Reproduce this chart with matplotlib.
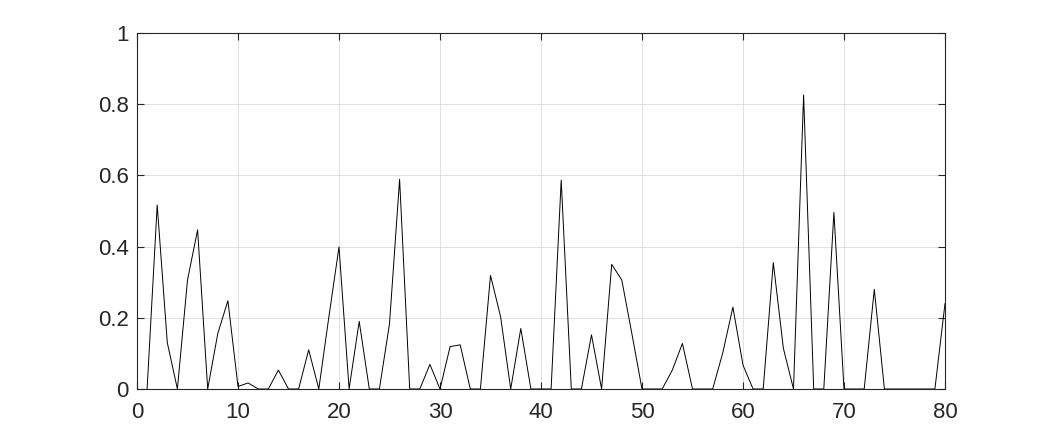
import numpy as np
import matplotlib
matplotlib.use("Agg")
import matplotlib.pyplot as plt
from matplotlib.ticker import FuncFormatter

# Sample index and values
x_vals = list(range(1, 81))
y_vals = [
    0.0, 0.517, 0.13, 0.0, 0.306, 0.447, 0.0, 0.156, 0.248, 0.007,
    0.017, 0.0, 0.0, 0.053, 0.0, 0.0, 0.11, 0.0, 0.203, 0.399,
    0.0, 0.19, 0.0, 0.0, 0.183, 0.589, 0.0, 0.0, 0.069, 0.0,
    0.119, 0.124, 0.0, 0.0, 0.319, 0.203, 0.0, 0.17, 0.0, 0.0,
    0.0, 0.587, 0.0, 0.0, 0.152, 0.0, 0.35, 0.306, 0.155, 0.0,
    0.0, 0.0, 0.053, 0.128, 0.0, 0.0, 0.0, 0.102, 0.23, 0.067,
    0.0, 0.0, 0.355, 0.114, 0.0, 0.826, 0.0, 0.0, 0.496, 0.0,
    0.0, 0.0, 0.28, 0.0, 0.0, 0.0, 0.0, 0.0, 0.0, 0.24,
]
x_ticks = [0, 10, 20, 30, 40, 50, 60, 70, 80]
y_ticks = [0, 0.2, 0.4, 0.6, 0.8, 1]

plt.rcParams['font.family'] = ['Liberation Sans', 'DejaVu Sans']

fig = plt.figure(figsize=(10.45, 4.37), dpi=100)
ax = fig.add_axes([137 / 1045, 1 - 389 / 437, (945 - 137) / 1045, (389 - 33) / 437])

ax.plot(x_vals, y_vals, color='black', linewidth=0.7)

ax.set_xlim(0, 80)
ax.set_ylim(0, 1)
ax.set_xticks(x_ticks)
ax.set_yticks(y_ticks)
ax.yaxis.set_major_formatter(FuncFormatter(lambda v, p: f"{v:g}"))

ax.grid(True, color='#dcdcdc', linewidth=0.6)
ax.set_axisbelow(True)
ax.tick_params(direction='in', top=True, right=True, length=5, width=0.8,
               colors='#262626', labelsize=16)
ax.tick_params(axis='x', pad=9)
ax.tick_params(axis='y', pad=6)
for s in ax.spines.values():
    s.set_color('#262626')
    s.set_linewidth(0.8)

fig.savefig('out.png', dpi=100)
